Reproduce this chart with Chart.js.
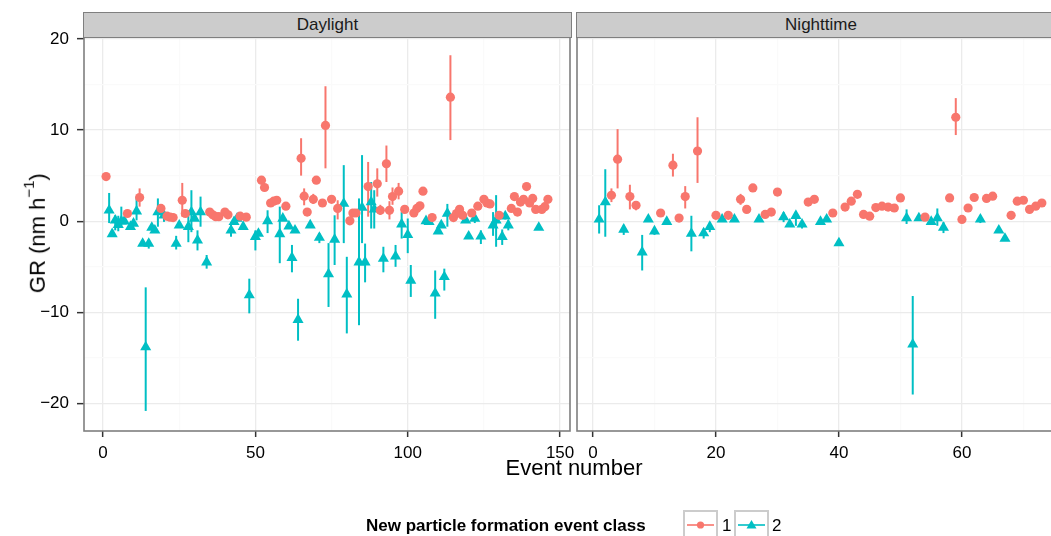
<!DOCTYPE html>
<html>
<head>
<meta charset="utf-8">
<script src="https://cdn.jsdelivr.net/npm/chart.js@4.4.0/dist/chart.umd.min.js"></script>
<style>
    html, body { margin: 0; padding: 0; width: 1051px; height: 536px; overflow: hidden; background: #fff; }
    body { position: relative; font-family: "Liberation Sans", Arial, sans-serif; color: #000; }
    canvas { position: absolute; left: 0; top: 0; }
    .strip { position: absolute; top: 12px; height: 26px; box-sizing: border-box; background: #cccccc;
             border: 1.5px solid #7f7f7f; text-align: center; font-size: 17px; line-height: 23px; color: #1a1a1a; }
    .ytitle { position: absolute; left: -65px; top: 217px; width: 200px; text-align: center; font-size: 22px;
              line-height: 26px; transform: rotate(-90deg); white-space: nowrap; }
    .ytitle sup { font-size: 15px; position: relative; top: -3px; }
    .xtitle { position: absolute; left: 374px; top: 455px; width: 400px; text-align: center; font-size: 22px; line-height: 26px; }
    .legend { position: absolute; top: 510px; left: 0; height: 40px; font-size: 17px; }
    .legend .ttl { position: absolute; left: 366px; top: 6px; font-weight: bold; white-space: nowrap; line-height: 20px; }
    .legend .key { position: absolute; top: 0; }
    .legend .lab { position: absolute; top: 6px; line-height: 20px; }
</style>
</head>
<body>
<canvas id="dayChart" width="1051" height="536"></canvas>
<canvas id="nightChart" width="1070" height="536"></canvas>

<div class="strip" style="left:83px;width:489px;">Daylight</div>
<div class="strip" style="left:576px;width:490px;">Nighttime</div>
<div class="ytitle">GR (nm h<sup>−1</sup>)</div>
<div class="xtitle">Event number</div>
<div class="legend">
    <div class="ttl">New particle formation event class</div>
    <svg class="key" style="left:683px" width="35" height="36">
        <rect x="1" y="1" width="33" height="40" fill="#fff" stroke="#cccccc" stroke-width="2"/>
        <line x1="4" y1="15" x2="31" y2="15" stroke="#F8766D" stroke-width="1.6"/>
        <circle cx="17.5" cy="15" r="3.6" fill="#F8766D"/>
    </svg>
    <div class="lab" style="left:722px">1</div>
    <svg class="key" style="left:734px" width="35" height="36">
        <rect x="1" y="1" width="33" height="40" fill="#fff" stroke="#cccccc" stroke-width="2"/>
        <line x1="4" y1="15" x2="31" y2="15" stroke="#00BFC4" stroke-width="1.6"/>
        <polygon points="17.5,10 22.5,18.5 12.5,18.5" fill="#00BFC4"/>
    </svg>
    <div class="lab" style="left:772px">2</div>
</div>

<script>
    "use strict";

    // Trục tung dùng chung cho hai panel
    const yTicks = [-20, -15, -10, -5, 0, 5, 10, 15, 20];
    const yMajor = [-20, -10, 0, 10, 20];
    const dayTicks = [0, 25, 50, 75, 100, 125, 150];
    const dayMajor = [0, 50, 100, 150];
    const nightTicks = [0, 10, 20, 30, 40, 50, 60, 70];
    const nightMajor = [0, 20, 40, 60];

    // Daylight - class 1
    const dayEvent1 = [1, 8, 12, 19, 21, 22, 23, 26, 27, 35, 36, 37, 38, 40, 41, 45, 47, 52, 53, 55, 56, 57, 60,
        65, 66, 67, 69, 70, 72, 73, 75, 77, 81, 82, 83, 87, 90, 91, 93, 94, 95, 97, 99, 102, 103, 104, 105, 108,
        114, 115, 116, 117, 118, 121, 123, 125, 126, 127, 130, 134, 135, 136, 137, 138, 139, 140, 141, 142, 144, 145, 146];
    const dayGR1 = [4.9, 0.85, 2.6, 1.4, 0.55, 0.45, 0.4, 2.3, 0.85, 1.0, 0.7, 0.5, 0.5, 1.0, 0.7, 0.55, 0.45,
        4.5, 3.7, 2.0, 2.2, 2.3, 1.65, 6.9, 2.75, 1.0, 2.4, 4.5, 2.0, 10.5, 2.4, 1.4, 0.05, 0.9, 0.9, 3.8,
        4.1, 1.2, 6.3, 1.2, 2.7, 3.3, 1.3, 0.9, 1.4, 1.7, 3.3, 0.4, 13.6, 0.4, 0.85, 1.3, 0.65,
        0.9, 1.65, 2.4, 2.0, 1.9, 0.65, 1.4, 2.7, 1.0, 2.1, 2.4, 3.8, 2.0, 2.5, 1.3, 1.3, 1.6, 2.4];
    const dayLo1 = [4.6, 0.6, 1.6, 1.0, 0.3, 0.2, 0.15, 0.5, 0.6, 0.75, 0.45, 0.25, 0.25, 0.75, 0.45, 0.3, 0.2,
        4.25, 3.45, 1.75, 1.95, 2.05, 1.4, 5.0, 1.75, 0.75, 1.9, 4.25, 1.75, 5.8, 2.15, 0.2, -0.2, 0.65, 0.65, 0.5,
        2.7, 0.7, 4.3, 0.2, 1.8, 2.4, 1.05, 0.65, 1.15, 1.45, 2.9, 0.15, 8.9, 0.15, 0.6, 1.05, 0.4,
        0.65, 1.4, 2.15, 1.75, 1.65, 0.4, 1.15, 2.45, 0.75, 1.85, 2.15, 3.55, 1.75, 2.25, 1.05, 1.05, 1.35, 2.15];
    const dayHi1 = [5.2, 1.1, 3.6, 1.8, 0.8, 0.7, 0.65, 4.2, 1.1, 1.25, 0.95, 0.75, 0.75, 1.25, 0.95, 0.8, 0.7,
        4.75, 3.95, 2.25, 2.45, 2.55, 1.9, 9.1, 3.6, 1.25, 3.0, 4.75, 2.25, 14.8, 2.65, 2.3, 0.3, 1.15, 1.15, 6.5,
        5.8, 1.8, 8.3, 2.2, 3.7, 4.2, 1.55, 1.15, 1.65, 1.95, 3.7, 0.65, 18.2, 0.65, 1.1, 1.55, 0.9,
        1.15, 1.9, 2.65, 2.25, 2.15, 0.9, 1.65, 2.95, 1.25, 2.35, 2.65, 4.05, 2.25, 2.75, 1.55, 1.55, 1.85, 2.65];

    // Daylight - class 2
    const dayEvent2 = [2, 3, 4, 5, 6, 7, 9, 10, 11, 13, 14, 15, 16, 17, 18, 20, 24, 25, 28, 29, 30, 31, 32, 34,
        42, 43, 44, 46, 48, 50, 51, 54, 58, 59, 61, 62, 63, 64, 68, 71, 74, 76, 79, 80, 84, 85, 86, 88, 89,
        92, 96, 98, 100, 101, 106, 107, 109, 110, 111, 112, 113, 119, 120, 122, 124, 128, 129, 131, 132, 133, 143];
    const dayGR2 = [1.2, -1.4, 0.1, -0.4, 0.0, 0.0, -0.6, -0.25, 1.1, -2.45, -13.8, -2.45, -0.7, -1.0, 1.0,
        0.65, -2.45, -0.45, -0.6, 1.0, 0.3, -2.1, 1.0, -4.5, -1.0, -0.07, 0.3, -0.6, -8.1, -1.7, -1.35,
        0.03, -1.4, 0.3, -0.55, -4.0, -1.0, -10.8, -0.44, -1.8, -5.8, -2.0, 1.94, -8.0, -4.5, 1.5, -4.5, 2.1, 1.3,
        -4.1, -3.85, -0.33, -1.5, -6.5, 0.03, -0.07, -7.9, -1.1, -0.44, -6.1, 0.85, 0.1, -1.65, 0.3, -1.65,
        -0.44, 0.1, -1.7, 0.55, -0.44, -0.7];
    const dayLo2 = [-0.2, -1.7, -1.0, -1.1, -0.5, -0.3, -0.85, -0.5, 0.1, -2.7, -20.8, -3.0, -0.95, -1.25, -0.6,
        -0.07, -3.1, -0.7, -2.3, -1.2, 0.05, -3.2, -0.6, -5.2, -1.7, -0.3, 0.05, -0.85, -10.1, -3.2, -1.6,
        -1.3, -4.6, 0.05, -0.8, -5.6, -1.25, -13.1, -0.7, -2.4, -9.4, -4.8, -2.4, -12.3, -11.4, -2.4, -6.7, -0.8, -0.8,
        -5.6, -5.0, -1.9, -3.5, -8.3, -0.2, -0.3, -10.7, -1.35, -0.7, -7.6, -0.6, -0.15, -1.9, -0.2, -2.5,
        -1.6, -2.8, -2.6, 0.2, -1.0, -0.95];
    const dayHi2 = [3.1, -1.1, 0.65, 0.6, 1.6, 0.3, -0.35, 0.0, 2.7, -2.2, -7.25, -2.0, -0.45, -0.75, 2.5,
        1.6, -1.6, -0.2, 1.2, 3.4, 0.55, -1.0, 2.7, -3.7, -0.1, 0.2, 0.55, -0.35, -6.3, -1.0, -1.1,
        1.2, 1.6, 0.55, -0.3, -2.6, -0.75, -8.5, -0.2, -1.3, -2.4, 0.65, 6.15, -3.9, 2.5, 7.25, -2.45, 4.3, 3.4,
        -2.8, -2.6, 1.0, 0.3, -4.8, 0.3, 0.2, -5.4, -0.85, -0.2, -5.2, 1.9, 0.35, -1.4, 0.8, -1.0,
        1.0, 2.86, -0.9, 0.9, 0.1, -0.45];

    // Nighttime - class 1
    const nightEvent1 = [3, 4, 6, 7, 11, 13, 14, 15, 17, 20, 22, 24, 25, 26, 28, 29, 30, 35, 36, 39,
        41, 42, 43, 44, 45, 46, 47, 48, 49, 50, 54, 58, 59, 60, 61, 62, 64, 65, 68, 69, 70, 71, 72, 73];
    const nightGR1 = [2.85, 6.8, 2.7, 1.75, 0.9, 6.15, 0.35, 2.7, 7.7, 0.65, 0.65, 2.4, 1.3, 3.65, 0.75, 1.0, 3.2,
        2.1, 2.4, 0.9, 1.55, 2.2, 2.95, 0.75, 0.55, 1.5, 1.65, 1.55, 1.45, 2.55, 0.45, 2.55, 11.4, 0.2, 1.45, 2.6,
        2.5, 2.75, 0.65, 2.2, 2.3, 1.3, 1.65, 2.0];
    const nightLo1 = [2.1, 3.6, 1.3, 1.2, 0.65, 4.9, 0.1, 1.4, 4.2, 0.4, 0.4, 1.8, 1.05, 3.4, 0.5, 0.75, 2.9,
        1.85, 2.0, 0.65, 1.3, 1.95, 2.7, 0.5, 0.3, 1.25, 1.4, 1.3, 1.2, 2.3, 0.2, 2.2, 9.45, -0.05, 1.2, 2.35,
        2.25, 2.5, 0.4, 1.95, 2.05, 1.0, 1.4, 1.75];
    const nightHi1 = [3.6, 10.1, 4.0, 2.2, 1.15, 7.4, 0.6, 3.85, 11.4, 0.9, 0.9, 3.0, 1.55, 3.9, 1.0, 1.25, 3.6,
        2.35, 2.7, 1.15, 1.8, 2.45, 3.2, 1.0, 0.8, 1.75, 1.9, 1.8, 1.7, 2.8, 0.7, 2.9, 13.5, 0.45, 1.7, 2.85,
        2.75, 3.0, 0.9, 2.45, 2.55, 1.6, 1.9, 2.25];

    // Nighttime - class 2
    const nightEvent2 = [1, 2, 5, 8, 9, 10, 12, 16, 18, 19, 21, 23, 27, 31, 32, 33, 34, 37, 38, 40,
        51, 52, 53, 55, 56, 57, 63, 66, 67];
    const nightGR2 = [0.2, 2.1, -0.9, -3.4, 0.2, -1.1, -0.05, -1.35, -1.3, -0.6, 0.2, 0.2, 0.2, 0.45, -0.35, 0.6,
        -0.35, -0.05, 0.2, -2.4, 0.35, -13.5, 0.35, -0.05, 0.35, -0.7, 0.2, -1.0, -1.9];
    const nightLo2 = [-1.35, -1.7, -1.5, -5.4, -0.05, -1.5, -0.3, -3.3, -1.9, -1.2, -0.05, -0.05, -0.05, -0.1, -0.6, -0.5,
        -0.8, -0.3, -0.05, -2.65, -0.3, -19.0, 0.1, -0.3, -0.5, -1.3, -0.2, -1.25, -2.15];
    const nightHi2 = [1.75, 5.7, -0.4, -1.5, 0.45, -0.8, 0.2, 0.6, -0.8, -0.1, 0.45, 0.45, 0.45, 1.0, -0.1, 1.1,
        0.1, 0.2, 0.45, -2.15, 1.3, -8.2, 0.6, 0.2, 1.4, -0.1, 0.6, -0.75, -1.65];

    const RED = "#F8766D";
    const TEAL = "#00BFC4";
    const H = 536;

    // vẽ thanh sai số trước các điểm
    const errorBars = {
        id: "errorBars",
        beforeDatasetsDraw(chart) {
            const { ctx, chartArea: a, scales } = chart;
            ctx.save();
            ctx.beginPath();
            ctx.rect(a.left, a.top, a.width, a.height);
            ctx.clip();
            ctx.lineWidth = 2;
            chart.data.datasets.forEach((ds) => {
                ctx.strokeStyle = ds.borderColor;
                ds.data.forEach((p, i) => {
                    const px = scales.x.getPixelForValue(p.x);
                    ctx.beginPath();
                    ctx.moveTo(px, scales.y.getPixelForValue(ds.lo[i]));
                    ctx.lineTo(px, scales.y.getPixelForValue(ds.hi[i]));
                    ctx.stroke();
                });
            });
            ctx.restore();
        },
    };

    const panelBorder = {
        id: "panelBorder",
        afterDraw(chart) {
            const { ctx, chartArea: a } = chart;
            ctx.save();
            ctx.strokeStyle = "#7f7f7f";
            ctx.lineWidth = 1.6;
            ctx.strokeRect(a.left, a.top, a.width, a.height);
            ctx.restore();
        },
    };

    const points = (xs, ys) => xs.map((x, i) => ({ x: x, y: ys[i] }));
    const fmt = (v) => String(v).replace("-", "\u2212");

    const makePanel = (id, width, area, xMin, xMax, xTicks, xMajor, showY, sets) => {
        let ctx = document.getElementById(id).getContext("2d");
        return new Chart(ctx, {
            type: "scatter",
            data: {
                datasets: [
                    {
                        data: points(sets[0], sets[1]), lo: sets[2], hi: sets[3],
                        pointStyle: "circle", pointRadius: 4.6, borderWidth: 0,
                        backgroundColor: RED, borderColor: RED,
                    },
                    {
                        data: points(sets[4], sets[5]), lo: sets[6], hi: sets[7],
                        pointStyle: "triangle", pointRadius: 6.4, borderWidth: 0,
                        backgroundColor: TEAL, borderColor: TEAL,
                    },
                ],
            },
            options: {
                responsive: false,
                animation: false,
                events: [],
                layout: {
                    autoPadding: false,
                    padding: { top: area.top, right: width - area.right, left: 0, bottom: 0 },
                },
                plugins: { legend: { display: false }, tooltip: { enabled: false } },
                scales: {
                    x: {
                        type: "linear",
                        min: xMin,
                        max: xMax,
                        afterBuildTicks: (s) => { s.ticks = xTicks.map((v) => ({ value: v })); },
                        afterFit: (s) => { s.height = H - area.bottom; },
                        border: { display: false },
                        grid: {
                            color: (c) => (xMajor.includes(c.tick.value) ? "#ebebeb" : "#fafafa"),
                            lineWidth: 1.3,
                            tickLength: 6,
                            tickWidth: 1.5,
                            tickColor: (c) => (xMajor.includes(c.tick.value) ? "#333333" : "rgba(0,0,0,0)"),
                        },
                        ticks: {
                            autoSkip: false,
                            maxRotation: 0,
                            padding: 6,
                            color: "#000",
                            font: { family: "Liberation Sans", size: 17 },
                            callback: (v) => (xMajor.includes(v) ? String(v) : ""),
                        },
                    },
                    y: {
                        type: "linear",
                        min: -23,
                        max: 20.2,
                        afterBuildTicks: (s) => { s.ticks = yTicks.map((v) => ({ value: v })); },
                        afterFit: (s) => { s.width = area.left; },
                        border: { display: false },
                        grid: {
                            color: (c) => (yMajor.includes(c.tick.value) ? "#ebebeb" : "#fafafa"),
                            lineWidth: 1.3,
                            drawTicks: showY,
                            tickLength: showY ? 7 : 0,
                            tickWidth: 1.5,
                            tickColor: (c) => (yMajor.includes(c.tick.value) ? "#333333" : "rgba(0,0,0,0)"),
                        },
                        ticks: {
                            display: showY,
                            padding: 8,
                            color: "#000",
                            font: { family: "Liberation Sans", size: 17 },
                            callback: (v) => (yMajor.includes(v) ? fmt(v) : ""),
                        },
                    },
                },
            },
            plugins: [errorBars, panelBorder],
        });
    };

    makePanel("dayChart", 1051, { left: 84, right: 570, top: 37, bottom: 431 }, -6.25, 153.25,
        dayTicks, dayMajor, true,
        [dayEvent1, dayGR1, dayLo1, dayHi1, dayEvent2, dayGR2, dayLo2, dayHi2]);

    makePanel("nightChart", 1070, { left: 577, right: 1064, top: 37, bottom: 431 }, -2.6, 76.6,
        nightTicks, nightMajor, false,
        [nightEvent1, nightGR1, nightLo1, nightHi1, nightEvent2, nightGR2, nightLo2, nightHi2]);
</script>
</body>
</html>
